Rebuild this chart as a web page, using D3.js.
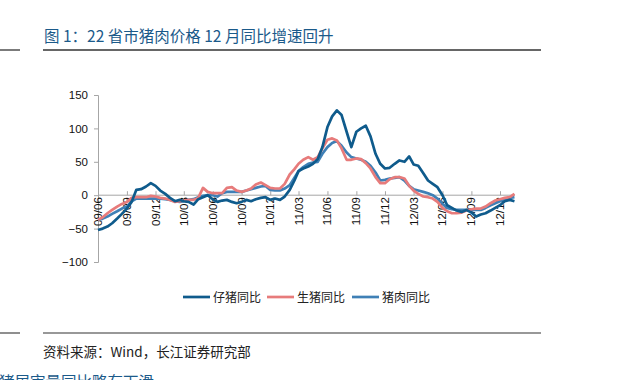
<!DOCTYPE html>
<html>
<head>
<meta charset="utf-8">
<script src="https://cdn.jsdelivr.net/npm/d3@7"></script>
<style>
  body { margin: 0; background: #fff; }
  svg { display: block; font-family: "Liberation Sans", Arial, "Noto Sans CJK SC", sans-serif; }
</style>
</head>
<body>
<svg id="chart" width="627" height="380"></svg>
<script>
// half-monthly readings, Jun 2009 .. mid Jan 2013
let piglet = [-52, -50, -47, -42, -35, -28, -20, -10, 8, 9, 13, 18, 14, 7, 2, -4, -9, -7, -9, -10,
    -14, -6, -3, 0, -6, -10, -8, -7, -10, -12, -10, -7, -9, -6, -4, -3, -7, -5, -7, -2,
    8, 22, 36, 40, 43, 47, 54, 72, 102, 118, 127, 120, 95, 72, 95, 100, 104, 88, 62, 47,
    40, 41, 47, 52, 50, 58, 46, 44, 33, 22, 17, 12, 0, -15, -19, -23, -25, -22, -26, -32,
    -29, -27, -23, -19, -15, -9, -7, -9];
let hog = [-37, -33, -27, -22, -17, -13, -10, -4, -3, -3, -3, -1, -2, -4, -5, -7, -10, -9, -8, -7,
    -7, -4, 11, 5, 3, 3, 3, 11, 12, 7, 5, 7, 10, 16, 19, 15, 11, 10, 10, 17,
    31, 39, 47, 53, 57, 53, 57, 70, 83, 85, 82, 70, 53, 53, 55, 54, 48, 40, 27, 18,
    18, 24, 27, 27, 25, 14, 7, 2, -2, -3, -5, -10, -19, -24, -27, -27, -26, -23, -21, -20,
    -20, -17, -12, -8, -6, -4, -3, 2];
let pork = [-37, -35, -32, -28, -24, -20, -17, -9, -5, -5, -5, -5, -5, -5, -6, -7, -9, -10, -9, -7,
    -6, -3, -1, 0, 0, -2, 3, 5, 5, 5, 5, 7, 9, 11, 13, 14, 8, 7, 7, 10,
    15, 26, 36, 42, 47, 49, 50, 62, 72, 78, 81, 74, 64, 57, 55, 53, 50, 44, 34, 22,
    23, 25, 26, 27, 22, 14, 9, 7, 5, 3, 0, -5, -13, -19, -21, -22, -22, -22, -22, -22,
    -22, -19, -15, -12, -9, -6, -4, -3];

let seriesNames = ['仔猪同比', '生猪同比', '猪肉同比'];
let seriesColors = ['#0f5b8c', '#e77b7b', '#3f80b6'];
let xTickLabels = ['09/06', '09/09', '09/12', '10/03', '10/06', '10/09', '10/12',
    '11/03', '11/06', '11/09', '11/12', '12/03', '12/06', '12/09', '12/12'];
let yTicks = [-100, -50, 0, 50, 100, 150];

let titleText = '图 1：22 省市猪肉价格 12 月同比增速回升';
let sourceText = '资料来源：Wind，长江证券研究部';
let nextText = '猪屠宰量同比略有下滑';

let cjk = '"Noto Sans CJK SC", sans-serif';
let latin = '"Liberation Sans", Arial, sans-serif';

// each reading is half a month apart
let parseMonth = d3.timeParse('%y/%m');
let start = parseMonth('09/06');
let dates = piglet.map((d, i) => d3.timeDay.offset(d3.timeMonth.offset(start, Math.floor(i / 2)), (i % 2) * 15));

let svg = d3.select('#chart');
let x = d3.scaleTime().domain([start, parseMonth('12/12')]).range([98, 500]);
let y = d3.scaleLinear().domain([-100, 150]).range([262, 95]);

// title and rules
svg.append('text')
    .attr('x', 44).attr('y', 42)
    .style('font-family', cjk)
    .style('font-size', '15.5px')
    .style('fill', '#1b5a8a')
    .text(titleText);
[50, 333].forEach(ry => {
    svg.append('line').attr('x1', 0).attr('x2', 20).attr('y1', ry).attr('y2', ry)
        .style('stroke', '#333').style('stroke-width', ry == 50 ? 1.3 : 1.1);
    svg.append('line').attr('x1', 43).attr('x2', 541).attr('y1', ry).attr('y2', ry)
        .style('stroke', '#333').style('stroke-width', ry == 50 ? 1.3 : 1.1);
});

// y axis
let yAxis = svg.append('g').attr('transform', 'translate(98,0)')
    .call(d3.axisLeft(y).tickValues(yTicks).tickSize(4).tickPadding(6));
yAxis.selectAll('line, path').style('stroke', '#a6a6a6');
yAxis.selectAll('text').style('font-family', latin).style('font-size', '11.5px').style('fill', '#111');

// x axis on the zero line, ticks pointing up, labels rotated
let xAxis = svg.append('g').attr('transform', `translate(0,${y(0)})`)
    .call(d3.axisTop(x).tickValues(xTickLabels.map(parseMonth)).tickSize(4).tickFormat(''));
xAxis.select('.domain').attr('d', `M98,0H515`);
xAxis.selectAll('line, path').style('stroke', '#a6a6a6');
svg.append('g').selectAll('text').data(xTickLabels).join('text')
    .attr('transform', d => `translate(${x(parseMonth(d)) + 4},${y(0) + 2}) rotate(-90)`)
    .attr('text-anchor', 'end')
    .style('font-family', latin)
    .style('font-size', '11.5px')
    .style('fill', '#111')
    .text(d => d);

// lines, drawn pork first so piglet stays on top
let allSeries = [piglet, hog, pork];
let line = d3.line().x((d, i) => x(dates[i])).y(d => y(d));
[2, 1, 0].forEach(k => {
    svg.append('path')
        .attr('d', line(allSeries[k]))
        .style('fill', 'none')
        .style('stroke', seriesColors[k])
        .style('stroke-width', 2.7)
        .style('stroke-linejoin', 'round');
});

// legend
let legendX = [183, 267, 352];
let legend = svg.append('g').selectAll('g').data(seriesNames).join('g')
    .attr('transform', (d, i) => `translate(${legendX[i]},297)`);
legend.append('line').attr('x1', 0).attr('x2', 27)
    .style('stroke', (d, i) => seriesColors[i]).style('stroke-width', 2.7);
legend.append('text').attr('x', 30).attr('y', 4.5)
    .style('font-family', cjk)
    .style('font-size', '12px').style('fill', '#222')
    .text(d => d);

// source and the clipped heading of the next figure
svg.append('text').attr('x', 43).attr('y', 357)
    .style('font-family', cjk)
    .style('font-size', '13.5px').style('fill', '#222')
    .text(sourceText);
svg.append('text').attr('x', -1).attr('y', 388)
    .style('font-family', cjk)
    .style('font-size', '15.5px').style('fill', '#1b5a8a')
    .text(nextText);
</script>
</body>
</html>
